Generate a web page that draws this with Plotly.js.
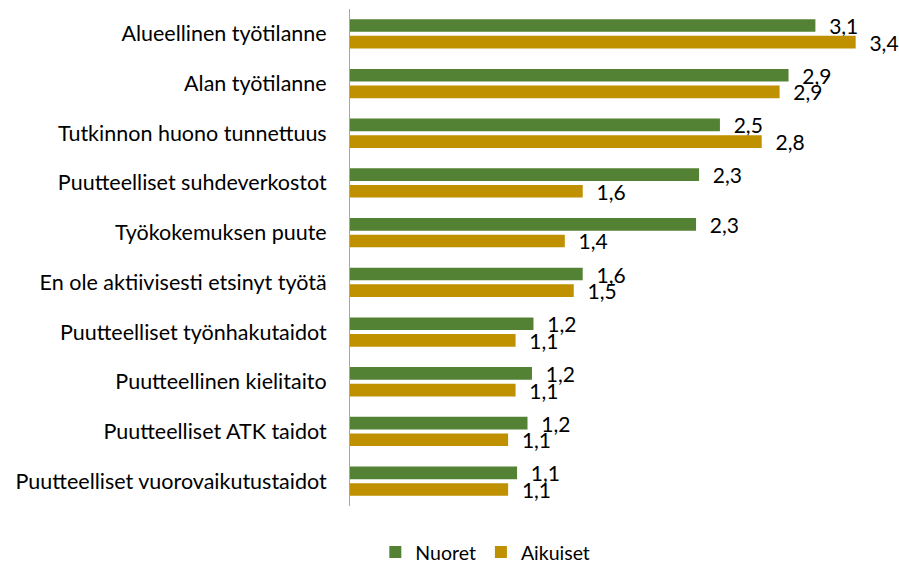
<!DOCTYPE html>
<html>
<head>
<meta charset="utf-8">
<script src="https://cdn.plot.ly/plotly-3.0.1.min.js"></script>
<style>html,body{margin:0;padding:0;background:#fff;}#chart{width:899px;height:561px;}</style>
</head>
<body>
<div id="chart"></div>
<script>
const categories = [
  "Alueellinen työtilanne",
  "Alan työtilanne",
  "Tutkinnon huono tunnettuus",
  "Puutteelliset suhdeverkostot",
  "Työkokemuksen puute",
  "En ole aktiivisesti etsinyt työtä",
  "Puutteelliset työnhakutaidot",
  "Puutteellinen kielitaito",
  "Puutteelliset ATK taidot",
  "Puutteelliset vuorovaikutustaidot"
];
const nuoret   = [3.12, 2.94, 2.48, 2.34, 2.32, 1.56, 1.23, 1.22, 1.19, 1.12];
const aikuiset = [3.39, 2.88, 2.76, 1.56, 1.44, 1.50, 1.11, 1.11, 1.06, 1.06];
const seriesNames = ["Nuoret", "Aikuiset"];
const colors = ["#548235", "#BF9000"];

const FONT = "Lato, 'Open Sans', sans-serif";
const mk = (vals, i) => ({
  type: "bar",
  orientation: "h",
  name: seriesNames[i],
  y: categories,
  x: vals,
  marker: {color: colors[i]},
  texttemplate: "\u00a0\u00a0%{x:.1f}",
  textposition: "outside",
  textfont: {family: FONT, size: 21, color: "#000"},
  cliponaxis: false,
  constraintext: "none",
  hoverinfo: "x+name"
});

const data = [mk(nuoret, 0), mk(aikuiset, 1)];
const layout = {
  width: 899, height: 561,
  margin: {l: 350, r: 12, t: 9, b: 55, autoexpand: false},
  paper_bgcolor: "#fff", plot_bgcolor: "#fff",
  separators: ", ",
  barmode: "group",
  bargap: 0.33,
  bargroupgap: 0.24,
  font: {family: FONT, size: 21, color: "#000"},
  xaxis: {range: [0, 3.6], showgrid: false, zeroline: false, showticklabels: false, ticks: "", showline: false, fixedrange: true},
  yaxis: {autorange: "reversed", showline: true, linecolor: "#A6A6A6", linewidth: 1,
          ticks: "outside", ticklen: 18, tickcolor: "rgba(0,0,0,0)", showgrid: false,
          tickfont: {family: FONT, size: 21.5, color: "#000"}},
  showlegend: true,
  legend: {orientation: "h", x: 0.252, xanchor: "center", y: -0.093, yanchor: "middle",
           font: {family: FONT, size: 19.5, color: "#000"}, traceorder: "normal"}
};
Plotly.newPlot("chart", data, layout, {displayModeBar: false, staticPlot: true});
</script>
</body>
</html>
